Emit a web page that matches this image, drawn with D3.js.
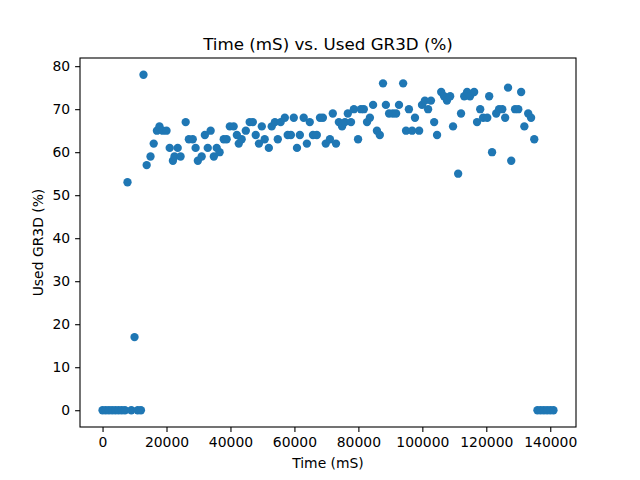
<!DOCTYPE html>
<html><head><meta charset="utf-8">
<script src="https://cdn.jsdelivr.net/npm/d3@7"></script>
<style>body{margin:0;background:#fff}svg{display:block}text{font-family:"DejaVu Sans",sans-serif;fill:#000}</style>
</head><body><svg id="c" width="640" height="480"></svg>
<script>
const times = [0,1000,2000,3000,4000,5000,6000,7000,7800,9000,10000,11000,12000,
12800,13800,15000,16000,17000,17800,18800,20000,21000,22000,22500,23500,24400,26000,27000,28200,29100,29800,
31000,32000,32900,33800,34800,35700,36600,37900,38800,39800,41000,42000,42600,43500,44800,46000,47000,47900,48900,
49800,50700,52000,52900,53900,54800,55700,57000,57900,58900,59800,60800,61700,62900,63900,64800,65800,67000,68000,
68900,69800,71100,72000,73000,73900,74900,75800,76700,77700,78600,79900,80800,81700,82700,83600,84600,85800,86700,
87700,88600,89600,90800,91800,92700,94000,94900,95800,96800,97700,99000,99900,100800,101800,102700,103700,104600,
105900,106800,107700,108700,109600,111200,112100,113100,114000,114900,116200,117100,118100,119000,120300,120900,
121800,123100,124000,125000,125900,126800,127800,129000,130000,130900,131900,133100,134000,135000,
136000,137000,138000,139000,140000,141000];
const gr3d = [0,0,0,0,0,0,0,0,53,0,17,0,0,
78,57,59,62,65,66,65,65,61,58,59,61,59,67,63,63,61,58,
59,64,61,65,59,61,60,63,63,66,66,64,62,63,65,67,67,64,62,
66,63,61,66,67,63,67,68,64,64,68,61,64,68,62,67,64,64,68,
68,62,63,69,62,67,66,67,69,67,70,63,70,70,67,68,71,65,64,
76,71,69,69,69,71,76,65,70,65,68,65,71,72,70,72,67,64,
74,73,72,73,66,55,69,73,74,73,74,67,70,68,68,73,
60,69,70,70,68,75,58,70,70,74,66,69,68,63,
0,0,0,0,0,0];
const xTicks = [0,20000,40000,60000,80000,100000,120000,140000];
const yTicks = [0,10,20,30,40,50,60,70,80];

const svg = d3.select("#c");
const L=80,R=576,T=58,B=427;
const xe=d3.extent(times), ye=d3.extent(gr3d);
const xm=(xe[1]-xe[0])*0.05, ym=(ye[1]-ye[0])*0.05;
const x=d3.scaleLinear().domain([xe[0]-xm,xe[1]+xm]).range([L,R]);
const y=d3.scaleLinear().domain([ye[0]-ym,ye[1]+ym]).range([B,T]);

svg.append("g").selectAll("circle").data(times).join("circle")
  .attr("cx",(d)=>x(d)).attr("cy",(d,i)=>y(gr3d[i])).attr("r",4.17).attr("fill","#1f77b4");

const xa=svg.append("g").attr("transform",`translate(0,${B})`)
  .call(d3.axisBottom(x).tickValues(xTicks).tickFormat(d3.format("d")).tickSizeOuter(0).tickSize(4.9).tickPadding(4.9));
const ya=svg.append("g").attr("transform",`translate(${L},0)`)
  .call(d3.axisLeft(y).tickValues(yTicks).tickFormat(d3.format("d")).tickSizeOuter(0).tickSize(4.9).tickPadding(4.9));
[xa,ya].forEach(a=>{a.select(".domain").remove();a.selectAll("line").attr("stroke","#000").attr("stroke-width",1.1);
  a.selectAll("text").attr("font-size","13.9px").attr("font-family","DejaVu Sans");});
svg.append("rect").attr("x",L).attr("y",T).attr("width",R-L).attr("height",B-T)
  .attr("fill","none").attr("stroke","#000").attr("stroke-width",1.1);

svg.append("text").attr("x",(L+R)/2).attr("y",T-8).attr("text-anchor","middle").attr("font-size","16.7px").text("Time (mS) vs. Used GR3D (%)");
svg.append("text").attr("x",(L+R)/2).attr("y",468).attr("text-anchor","middle").attr("font-size","13.9px").text("Time (mS)");
svg.append("text").attr("transform",`translate(43,${(T+B)/2}) rotate(-90)`).attr("text-anchor","middle").attr("font-size","13.9px").text("Used GR3D (%)");
</script></body></html>
